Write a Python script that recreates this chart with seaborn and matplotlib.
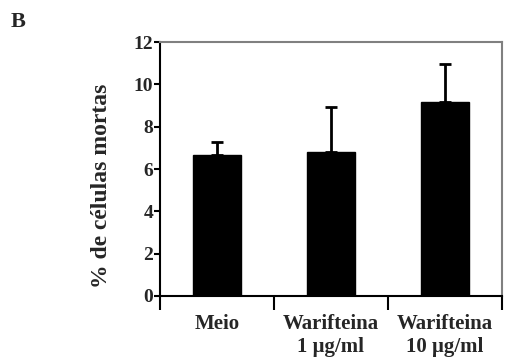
import matplotlib
matplotlib.use("Agg")
import matplotlib.pyplot as plt
import seaborn as sns
import pandas as pd
from matplotlib.ticker import FixedLocator

categories = ["Meio", "Warifteina\n1 \u03bcg/ml", "Warifteina\n10 \u03bcg/ml"]
means = [6.65, 6.8, 9.15]
errors = [0.65, 2.15, 1.8]
y_ticks = [0, 2, 4, 6, 8, 10, 12]

sns.set_theme(style="white")
plt.rcParams["font.family"] = ["Liberation Serif", "DejaVu Serif"]
plt.rcParams["font.weight"] = "bold"

df = pd.DataFrame({"grupo": categories, "mortas": means})

fig = plt.figure(figsize=(5.07, 3.6), dpi=100)
ax = fig.add_axes([0.3156, 0.178, 0.6744, 0.705])

sns.barplot(data=df, x="grupo", y="mortas", color="black", width=0.42,
            errorbar=None, ax=ax, saturation=1)
for p in ax.patches:
    p.set_edgecolor("black")

# upward-only standard deviation whiskers
ax.errorbar(range(len(means)), means, yerr=[[0] * len(means), errors],
            fmt="none", ecolor="black", elinewidth=2, capsize=4, capthick=2)

ax.set_xlim(-0.5, 2.5)
ax.set_ylim(0, 12)
ax.set_yticks(y_ticks)
ax.set_yticklabels([str(v) for v in y_ticks], fontsize=14, fontweight="bold")
ax.set_xticks(range(len(categories)))
ax.set_xticklabels(categories, fontsize=15, fontweight="bold", linespacing=1.2)
ax.xaxis.set_minor_locator(FixedLocator([-0.5, 0.5, 1.5, 2.5]))
ax.tick_params(axis="x", which="both", bottom=True)
ax.tick_params(axis="y", which="major", left=True)
ax.tick_params(axis="x", which="major", length=0, pad=13)
ax.tick_params(axis="x", which="minor", length=10, width=1.5, color="black",
               direction="out")
ax.tick_params(axis="y", which="major", length=4, width=1.5, color="black",
               direction="out", pad=1)

ax.set_xlabel("")
ax.set_ylabel("% de c\u00e9lulas mortas", fontsize=17, fontweight="bold",
              va="center")
ax.yaxis.set_label_coords(-0.17, 0.433)

for side in ["left", "bottom"]:
    ax.spines[side].set_color("black")
    ax.spines[side].set_linewidth(1.5)
for side in ["top", "right"]:
    ax.spines[side].set_color("#808080")
    ax.spines[side].set_linewidth(1.5)

fig.text(0.02, 0.967, "B", fontsize=16, fontweight="bold", va="top",
         ha="left")

fig.savefig("out.png", dpi=100, facecolor="white")
